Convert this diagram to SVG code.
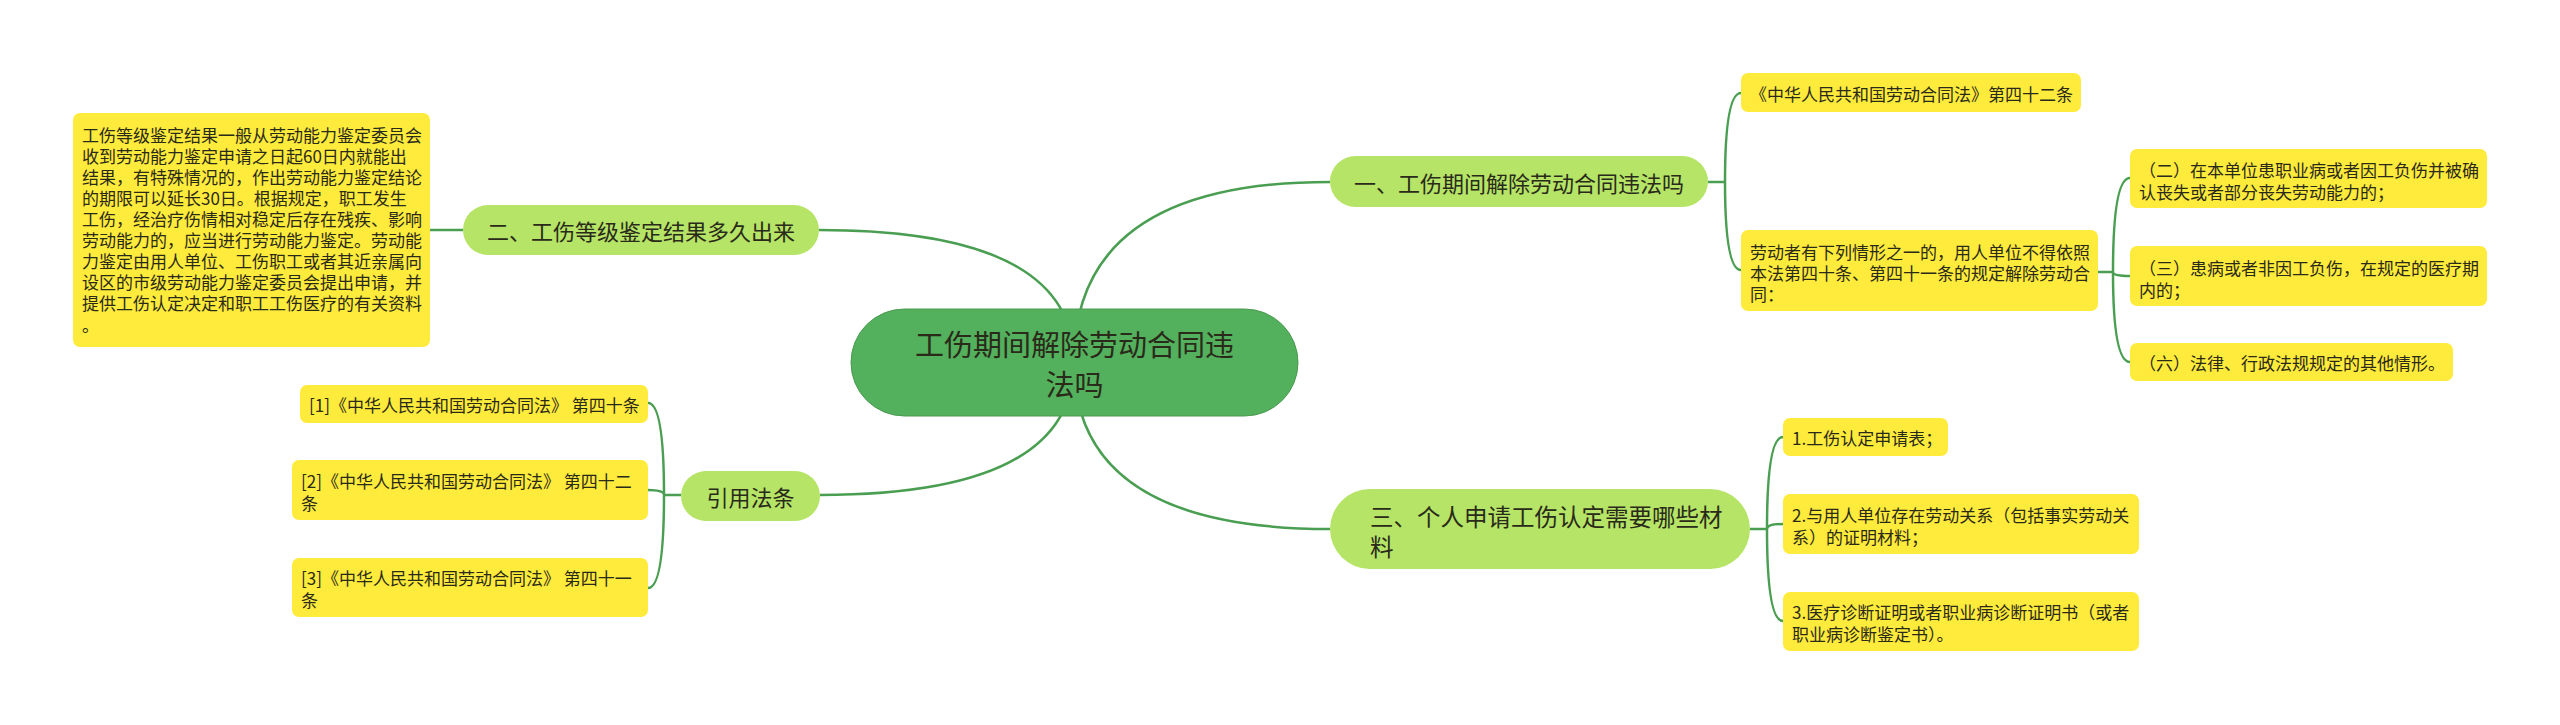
<svg xmlns="http://www.w3.org/2000/svg" width="2560" height="725" viewBox="0 0 2560 725">
<defs>
<style>
.bg{fill:#ffffff}
.conn{fill:none;stroke:#4a9e52;stroke-width:2.5}
.root{fill:#53b05c;stroke:#4a9a50;stroke-width:1}
.main{fill:#b5e466}
.leaf{fill:#ffeb3b}
text{font-family:"Noto Sans CJK SC","Noto Sans",sans-serif;fill:#2a2a1a;dominant-baseline:central}
.t29{font-size:29px}
.t22{font-size:22px}
.t17{font-size:17px}
</style>
</defs>
<rect class="bg" x="0" y="0" width="2560" height="725"/>
<g id="connectors">
<path class="conn" d="M1074,362 Q1074,230 819,230"/>
<path class="conn" d="M1074,362 Q1074,182 1330,182"/>
<path class="conn" d="M1074,362 Q1074,495 820,495"/>
<path class="conn" d="M1074,362 Q1074,529 1330,529"/>
<path class="conn" d="M463,230 H430"/>
<path class="conn" d="M1708,182 H1725 M1725,182 Q1725,93 1741,93 M1725,182 Q1725,270 1741,270"/>
<path class="conn" d="M2098,272 H2113 M2113,272 Q2113,178 2130,178 M2113,272 Q2113,276 2130,276 M2113,272 Q2113,362 2130,362"/>
<path class="conn" d="M1750,529 H1767 M1767,529 Q1767,437 1783,437 M1767,529 Q1767,524 1783,524 M1767,529 Q1767,621 1783,621"/>
<path class="conn" d="M681,495 H664 M664,495 Q664,403 648,403 M664,495 Q664,490 648,490 M664,495 Q664,588 648,588"/>
</g>
<g id="root">
<rect class="root" x="851" y="309" width="447" height="107" rx="53.5"/>
<text class="t29" text-anchor="middle"><tspan x="1074.5" y="343">工伤期间解除劳动合同违</tspan><tspan x="1074.5" y="383">法吗</tspan></text>
</g>
<g id="n1">
<rect class="main" x="1330" y="156" width="378" height="51" rx="25.5"/>
<text class="t22" x="1519" y="182" text-anchor="middle">一、工伤期间解除劳动合同违法吗</text>
</g>
<g id="n1a">
<rect class="leaf" x="1741" y="73" width="340" height="39" rx="7"/>
<text class="t17" x="1750" y="93">《中华人民共和国劳动合同法》第四十二条</text>
</g>
<g id="n1b">
<rect class="leaf" x="1741" y="230" width="357" height="81" rx="7"/>
<text class="t17"><tspan x="1750" y="251">劳动者有下列情形之一的，用人单位不得依照</tspan><tspan x="1750" y="272">本法第四十条、第四十一条的规定解除劳动合</tspan><tspan x="1750" y="293">同：</tspan></text>
</g>
<g id="n1b1">
<rect class="leaf" x="2130" y="149" width="357" height="59" rx="7"/>
<text class="t17"><tspan x="2139" y="169">（二）在本单位患职业病或者因工负伤并被确</tspan><tspan x="2139" y="191">认丧失或者部分丧失劳动能力的；</tspan></text>
</g>
<g id="n1b2">
<rect class="leaf" x="2130" y="246" width="357" height="60" rx="7"/>
<text class="t17"><tspan x="2139" y="267">（三）患病或者非因工负伤，在规定的医疗期</tspan><tspan x="2139" y="289">内的；</tspan></text>
</g>
<g id="n1b3">
<rect class="leaf" x="2130" y="343" width="323" height="38" rx="7"/>
<text class="t17" x="2139" y="362">（六）法律、行政法规规定的其他情形。</text>
</g>
<g id="n2">
<rect class="main" x="463" y="205" width="356" height="50" rx="25"/>
<text class="t22" x="641" y="230" text-anchor="middle">二、工伤等级鉴定结果多久出来</text>
</g>
<g id="n2a">
<rect class="leaf" x="73" y="113" width="357" height="234" rx="7"/>
<text class="t17"><tspan x="82" y="134">工伤等级鉴定结果一般从劳动能力鉴定委员会</tspan><tspan x="82" y="155">收到劳动能力鉴定申请之日起60日内就能出</tspan><tspan x="82" y="176">结果，有特殊情况的，作出劳动能力鉴定结论</tspan><tspan x="82" y="197">的期限可以延长30日。根据规定，职工发生</tspan><tspan x="82" y="218">工伤，经治疗伤情相对稳定后存在残疾、影响</tspan><tspan x="82" y="239">劳动能力的，应当进行劳动能力鉴定。劳动能</tspan><tspan x="82" y="260">力鉴定由用人单位、工伤职工或者其近亲属向</tspan><tspan x="82" y="281">设区的市级劳动能力鉴定委员会提出申请，并</tspan><tspan x="82" y="302">提供工伤认定决定和职工工伤医疗的有关资料</tspan><tspan x="82" y="324">。</tspan></text>
</g>
<g id="n3">
<rect class="main" x="1330" y="489" width="420" height="80" rx="40"/>
<text class="t22" style="font-size:23.5px"><tspan x="1370" y="516">三、个人申请工伤认定需要哪些材</tspan><tspan x="1370" y="546">料</tspan></text>
</g>
<g id="n3a">
<rect class="leaf" x="1783" y="418" width="165" height="38" rx="7"/>
<text class="t17" x="1792" y="437">1.工伤认定申请表；</text>
</g>
<g id="n3b">
<rect class="leaf" x="1783" y="494" width="356" height="60" rx="7"/>
<text class="t17"><tspan x="1792" y="514">2.与用人单位存在劳动关系（包括事实劳动关</tspan><tspan x="1792" y="536">系）的证明材料；</tspan></text>
</g>
<g id="n3c">
<rect class="leaf" x="1783" y="592" width="356" height="59" rx="7"/>
<text class="t17"><tspan x="1792" y="611">3.医疗诊断证明或者职业病诊断证明书（或者</tspan><tspan x="1792" y="633">职业病诊断鉴定书）。</tspan></text>
</g>
<g id="n4">
<rect class="main" x="681" y="471" width="139" height="50" rx="25"/>
<text class="t22" x="750.5" y="496" text-anchor="middle">引用法条</text>
</g>
<g id="n4a">
<rect class="leaf" x="300" y="385" width="348" height="38" rx="7"/>
<text class="t17" x="309" y="404">[1]《中华人民共和国劳动合同法》 第四十条</text>
</g>
<g id="n4b">
<rect class="leaf" x="292" y="460" width="356" height="60" rx="7"/>
<text class="t17"><tspan x="301" y="480">[2]《中华人民共和国劳动合同法》 第四十二</tspan><tspan x="301" y="502">条</tspan></text>
</g>
<g id="n4c">
<rect class="leaf" x="292" y="558" width="356" height="59" rx="7"/>
<text class="t17"><tspan x="301" y="577">[3]《中华人民共和国劳动合同法》 第四十一</tspan><tspan x="301" y="599">条</tspan></text>
</g>
</svg>
